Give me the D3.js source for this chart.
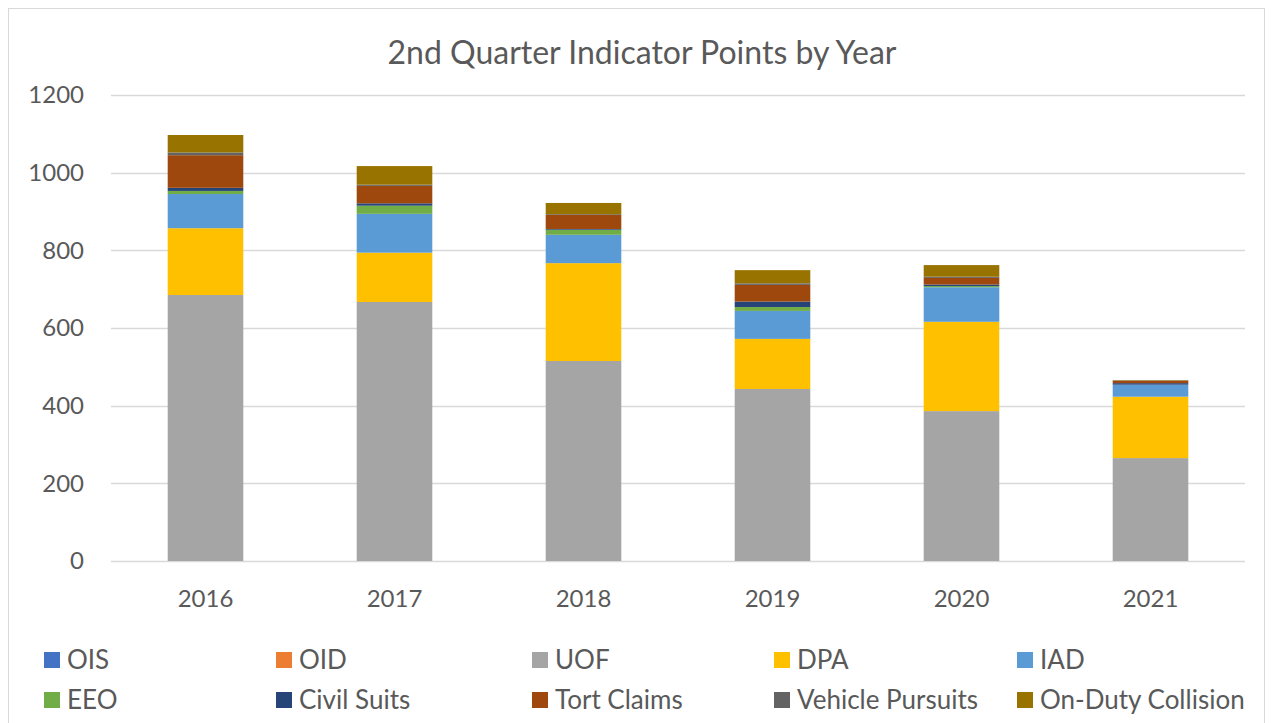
<!DOCTYPE html>
<html>
<head>
<meta charset="utf-8">
<script src="https://cdn.jsdelivr.net/npm/d3@7"></script>
<style>
  body { margin: 0; background: #fff; }
  svg text { font-family: Lato, "Noto Sans", sans-serif; fill: #595959; }
</style>
</head>
<body>
<svg id="chart" width="1273" height="723"></svg>
<script>
// years along the x axis
var years = ["2016", "2017", "2018", "2019", "2020", "2021"];

// one array per indicator, values per year
var OIS = [0, 0, 0, 0, 0, 0];
var OID = [0, 0, 0, 0, 0, 0];
var UOF = [685, 667, 515, 443, 386, 265];
var DPA = [172, 127, 252, 129, 230, 158];
var IAD = [88, 100, 73, 72, 89, 31];
var EEO = [8, 21, 13, 10, 3, 0];
var civilSuits = [8, 6, 2, 14, 4, 4];
var tortClaims = [84, 45, 36, 43, 17, 6];
var vehiclePursuits = [7, 3, 2, 4, 3, 1];
var onDutyCollision = [45, 48, 29, 34, 30, 1];

var yTicks = [0, 200, 400, 600, 800, 1000, 1200];

var series = [
  { name: "OIS", values: OIS, color: "#4472C4" },
  { name: "OID", values: OID, color: "#ED7D31" },
  { name: "UOF", values: UOF, color: "#A5A5A5" },
  { name: "DPA", values: DPA, color: "#FFC000" },
  { name: "IAD", values: IAD, color: "#5B9BD5" },
  { name: "EEO", values: EEO, color: "#70AD47" },
  { name: "Civil Suits", values: civilSuits, color: "#264478" },
  { name: "Tort Claims", values: tortClaims, color: "#9E480E" },
  { name: "Vehicle Pursuits", values: vehiclePursuits, color: "#636363" },
  { name: "On-Duty Collision", values: onDutyCollision, color: "#997300" }
];

var svg = d3.select("#chart");

// chart border
svg.append("rect")
  .attr("x", 8.5).attr("y", 8.5)
  .attr("width", 1256).attr("height", 720)
  .attr("fill", "none").attr("stroke", "#d9d9d9");

svg.append("text")
  .attr("x", 642).attr("y", 64)
  .attr("text-anchor", "middle")
  .style("font-size", "32px")
  .text("2nd Quarter Indicator Points by Year");

var plotLeft = 111, plotRight = 1245, plotTop = 95, plotBottom = 561;

var x = d3.scaleBand().domain(years).range([plotLeft, plotRight])
  .paddingInner(0.6).paddingOuter(0.3);
var y = d3.scaleLinear().domain([0, 1200]).range([plotBottom, plotTop]);

// gridlines
svg.append("g")
  .selectAll("line")
  .data(yTicks)
  .enter().append("line")
    .attr("x1", plotLeft).attr("x2", plotRight)
    .attr("y1", function(d) { return Math.round(y(d)) + 0.5; })
    .attr("y2", function(d) { return Math.round(y(d)) + 0.5; })
    .attr("stroke", "#d9d9d9").attr("stroke-width", 1.5);

svg.append("g")
  .selectAll("text")
  .data(yTicks)
  .enter().append("text")
    .attr("x", 84)
    .attr("y", function(d) { return y(d); })
    .attr("dy", "0.35em")
    .attr("text-anchor", "end")
    .style("font-size", "24px")
    .text(function(d) { return d; });

var table = years.map(function(yr, i) {
  var row = { year: yr };
  series.forEach(function(s) { row[s.name] = s.values[i]; });
  return row;
});

var stack = d3.stack().keys(series.map(function(s) { return s.name; }));
var layers = stack(table);

svg.append("g")
  .selectAll("g")
  .data(layers)
  .enter().append("g")
    .attr("fill", function(d, i) { return series[i].color; })
  .selectAll("rect")
  .data(function(d) { return d; })
  .enter().append("rect")
    .attr("x", function(d) { return x(d.data.year); })
    .attr("width", x.bandwidth())
    .attr("y", function(d) { return y(d[1]); })
    .attr("height", function(d) { return y(d[0]) - y(d[1]); });

svg.append("g")
  .selectAll("text")
  .data(years)
  .enter().append("text")
    .attr("x", function(d) { return x(d) + x.bandwidth() / 2; })
    .attr("y", 607)
    .attr("text-anchor", "middle")
    .style("font-size", "24px")
    .text(function(d) { return d; });

// legend, 5 per row (excel spaces the columns a bit unevenly)
var legendCols = [44, 276, 532, 774, 1017];
var legend = svg.append("g")
  .selectAll("g")
  .data(series)
  .enter().append("g")
    .attr("transform", function(d, i) {
      return "translate(" + legendCols[i % 5] + "," + (660 + Math.floor(i / 5) * 40) + ")";
    });

legend.append("rect")
  .attr("x", 0).attr("y", -8)
  .attr("width", 16).attr("height", 16)
  .attr("fill", function(d) { return d.color; });

legend.append("text")
  .attr("x", 23).attr("y", 0)
  .attr("dy", "0.36em")
  .style("font-size", "26px")
  .text(function(d) { return d.name; });
</script>
</body>
</html>
